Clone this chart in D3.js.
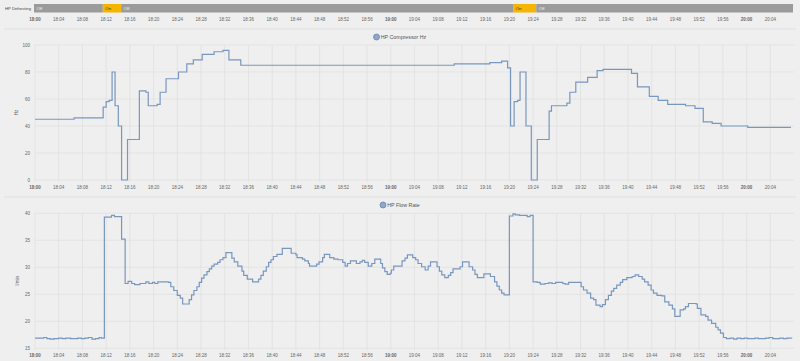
<!DOCTYPE html>
<html><head><meta charset="utf-8">
<script src="https://cdn.jsdelivr.net/npm/d3@7"></script>
<style>
html,body{margin:0;padding:0;background:#efefef;}
svg{display:block;font-family:"Liberation Sans",Arial,sans-serif;}
</style></head>
<body>
<svg id="c" width="800" height="361"></svg>
<script>
// ---------------- DATA ----------------
const dayStart = "18:00:00";
const dayEnd = "20:08:00";

const defrostStart = ["18:00:00","18:11:36","18:14:42","19:20:48","19:24:42"];
const defrostEnd   = ["18:11:36","18:14:42","19:20:48","19:24:42","20:08:00"];
const defrostState = ["Off","On","Off","On","Off"];

const hzTime = ["18:00:00","18:06:36","18:11:30","18:12:00","18:12:30","18:13:00","18:13:30","18:14:03","18:14:36","18:15:36",
"18:17:36","18:18:42","18:19:06","18:20:36","18:21:06","18:22:06","18:24:12","18:25:36","18:26:42","18:28:12",
"18:30:12","18:31:42","18:32:42","18:34:42","19:10:42","19:16:42","19:18:42","19:19:42","19:20:12","19:20:48",
"19:21:24","19:21:48","19:22:48","19:23:42","19:24:42","19:26:42","19:27:06","19:29:42","19:30:12","19:31:12",
"19:33:12","19:34:48","19:35:48","19:40:36","19:41:36","19:43:36","19:45:06","19:46:42","19:49:42","19:51:18",
"19:52:42","19:54:12","19:55:42","20:00:12","20:07:30"];
const hzValue = [45,46,54,58,59,80,55,40,0,30,
66,65,55,56,65,75,80,86,89,93,
95,96,89,85,86,87,88,83,40,58,
59,80,40,0,30,51,55,57,65,72.5,
76,81,82,79,69,62,59,56,55,53,
43,42,40,39,39];

const flowTime = ["18:00:00","18:01:00","18:01:30","18:02:00","18:02:36","18:03:12","18:04:00","18:04:36","18:05:12","18:06:00",
"18:06:36","18:07:12","18:07:48","18:08:24","18:09:00","18:09:36","18:10:12","18:10:48","18:11:12","18:11:42",
"18:12:54","18:13:24","18:14:36","18:15:12","18:15:42","18:16:18","18:16:48","18:17:42","18:18:42","18:19:12",
"18:19:48","18:20:12","18:20:42","18:22:30","18:22:54","18:23:24","18:24:00","18:24:30","18:24:54","18:26:00",
"18:26:24","18:26:48","18:27:18","18:27:42","18:28:06","18:28:30","18:29:00","18:29:24","18:29:48","18:30:12",
"18:30:48","18:31:12","18:31:42","18:32:12","18:33:12","18:33:36","18:34:12","18:34:54","18:35:12","18:35:48",
"18:36:42","18:37:42","18:38:06","18:38:30","18:39:00","18:39:24","18:39:48","18:40:12","18:40:48","18:41:42",
"18:43:12","18:44:00","18:44:12","18:45:06","18:45:30","18:46:06","18:46:18","18:47:30","18:47:54","18:48:30",
"18:48:48","18:49:42","18:50:24","18:51:06","18:51:54","18:52:18","18:52:42","18:53:12","18:54:12","18:54:48",
"18:55:12","18:55:36","18:56:12","18:56:48","18:57:18","18:58:18","18:58:36","18:59:00","18:59:24","18:59:54",
"19:00:06","19:00:30","19:01:54","19:02:24","19:02:48","19:03:42","19:04:12","19:04:36","19:05:12","19:05:48",
"19:06:18","19:06:42","19:07:48","19:08:12","19:08:36","19:09:06","19:09:42","19:10:06","19:10:30","19:11:42",
"19:12:06","19:13:12","19:13:48","19:14:12","19:14:36","19:15:42","19:16:48","19:17:30","19:17:54","19:18:18",
"19:18:42","19:19:06","19:20:00","19:20:36","19:21:00","19:21:42","19:23:00","19:23:30","19:24:00","19:24:42",
"19:25:12","19:26:00","19:26:36","19:27:12","19:27:48","19:29:00","19:29:24","19:30:00","19:32:06","19:32:30",
"19:33:06","19:33:42","19:34:12","19:34:36","19:35:18","19:35:42","19:36:12","19:36:42","19:37:12","19:37:36",
"19:38:06","19:38:42","19:39:06","19:39:48","19:40:42","19:41:12","19:41:48","19:42:24","19:42:48","19:43:24",
"19:43:54","19:44:18","19:44:54","19:45:42","19:46:12","19:46:54","19:47:30","19:47:54","19:48:48","19:49:24",
"19:49:42","19:50:12","19:51:30","19:51:42","19:52:18","19:53:06","19:53:30","19:54:06","19:54:48","19:55:12",
"19:55:36","19:56:06","19:56:36","19:57:12","19:57:48","19:58:24","19:59:00","19:59:36","20:00:12","20:00:48",
"20:01:24","20:02:00","20:02:36","20:03:12","20:03:48","20:04:24","20:05:00","20:05:36","20:06:12","20:06:48",
"20:07:36"];
const flowValue = [16.9,16.9,17.0,16.8,16.7,16.8,16.9,16.8,16.9,16.8,
16.8,16.9,16.8,16.9,17.0,16.7,16.8,17.0,16.9,39.3,
39.6,39.4,35.2,27.0,27.4,27.0,26.8,27.0,27.3,27.0,
27.2,27.0,27.3,27.2,26.4,25.7,24.8,24.3,23.2,24.0,
24.9,25.7,26.4,27.2,28.0,28.6,29.2,29.7,30.2,30.6,
30.9,31.4,31.8,32.7,31.7,31.0,30.2,29.3,28.5,27.8,
27.3,27.8,28.5,29.3,30.1,30.9,31.4,32.0,32.4,33.5,
32.6,32.3,31.8,31.5,31.2,30.7,30.2,30.6,31.0,31.8,
32.4,31.8,31.5,31.4,30.9,30.2,30.7,31.2,30.7,31.0,
31.3,30.9,30.2,30.7,31.5,30.7,29.9,29.2,28.7,28.9,
29.5,30.2,31.2,31.7,32.3,31.8,31.4,30.7,30.1,29.5,
30.2,31.0,30.1,29.3,28.6,28.1,28.5,29.0,29.7,30.1,
31.0,30.1,29.5,28.7,28.1,28.8,28.3,27.3,26.5,25.8,
25.2,24.9,39.5,39.9,39.7,39.6,39.4,39.6,27.3,27.2,
26.9,27.0,27.1,27.0,27.2,27.0,26.9,27.2,26.4,25.8,
25.2,24.3,24.0,23.0,22.7,23.1,24.0,24.8,25.6,26.1,
26.7,27.2,27.7,28.1,28.3,28.6,28.3,27.8,27.3,26.7,
25.8,25.2,24.8,24.7,23.6,23.0,22.3,20.9,22.1,22.3,
22.7,23.3,23.2,22.4,21.2,20.9,20.2,19.6,18.9,18.4,
17.8,17.0,16.8,16.9,16.7,16.9,16.8,16.9,16.8,16.8,
16.9,16.8,16.8,16.9,17.0,16.8,16.8,16.9,16.8,16.9,
16.8];

const hzTicks = [0,20,40,60,80,100];
const flowTicks = [15,20,25,30,35,40];

// ---------------- DRAW ----------------
const parse = s => { const [h,m,sec] = s.split(":").map(Number); return new Date(2024,0,1,h,m,sec); };
const svg = d3.select("#c");
const x = d3.scaleTime().domain([parse(dayStart), parse(dayEnd)]).range([35, 794]);
const ticks = x.ticks(d3.timeMinute.every(4)).filter(d => d < parse(dayEnd) - 60000);
const fmt = d3.timeFormat("%H:%M");
const textCol = "#666";

function xLabels(g, y) {
  g.selectAll("text.xl").data(ticks).join("text").attr("class","xl")
    .attr("x", d => x(d)).attr("y", y)
    .attr("text-anchor", "middle")
    .attr("font-size", 4.5).attr("fill", textCol)
    .attr("font-weight", d => d.getMinutes() === 0 ? "bold" : "normal")
    .text(fmt);
}

// Timeline
const tl = svg.append("g");
tl.append("text").attr("x", 5).attr("y", 9.8).attr("font-size", 4.4).attr("fill", "#444")
  .attr("textLength", 26).attr("lengthAdjust", "spacingAndGlyphs").text("HP Defrosting");
const segs = defrostState.map((s,i) => ({s, a: parse(defrostStart[i]), b: parse(defrostEnd[i])}));
tl.selectAll("rect").data(segs).join("rect")
  .attr("x", d => x(d.a) - 1).attr("width", d => x(d.b) - x(d.a))
  .attr("y", 4).attr("height", 8.5)
  .attr("fill", d => d.s === "On" ? "#f4b400" : "#9b9b9b");
tl.selectAll("text.seg").data(segs).join("text").attr("class","seg")
  .attr("x", d => x(d.a) + 1.5).attr("y", 9.8)
  .attr("font-size", 4.4)
  .attr("fill", d => d.s === "On" ? "#333" : "#f2f2f2")
  .text(d => d.s);
xLabels(tl, 20.5);
svg.append("line").attr("x1", 4).attr("x2", 796).attr("y1", 29).attr("y2", 29).attr("stroke", "#dcdcdc").attr("stroke-width", 0.8);
svg.append("line").attr("x1", 4).attr("x2", 796).attr("y1", 197).attr("y2", 197).attr("stroke", "#dcdcdc").attr("stroke-width", 0.8);

function chart(opts) {
  const {top, bottom, domain, yticks, times, values, title, unit, unitX, legendY, labelY} = opts;
  const g = svg.append("g");
  const y = d3.scaleLinear().domain(domain).range([bottom, top]);
  g.selectAll("line.h").data(yticks).join("line").attr("class","h")
    .attr("x1", 35).attr("x2", 794).attr("y1", d => y(d)).attr("y2", d => y(d))
    .attr("stroke", "#dcdcdc").attr("stroke-width", 0.6);
  g.selectAll("line.v").data(ticks).join("line").attr("class","v")
    .attr("x1", d => x(d)).attr("x2", d => x(d)).attr("y1", top).attr("y2", bottom + 2)
    .attr("stroke", "#dcdcdc").attr("stroke-width", 0.6);
  g.selectAll("text.yl").data(yticks).join("text").attr("class","yl")
    .attr("x", 30).attr("y", d => y(d) + 1.6).attr("text-anchor", "end")
    .attr("font-size", 4.5).attr("fill", textCol).text(d => d);
  xLabels(g, labelY);
  g.append("text").attr("transform", `translate(${unitX},${(top+bottom)/2}) rotate(-90)`)
    .attr("text-anchor", "middle").attr("font-size", 4.5).attr("fill", textCol).text(unit);
  const lg = g.append("g");
  const lt = lg.append("text").attr("x", 0).attr("y", legendY + 1.8).attr("font-size", 5.3).attr("fill", "#555").text(title);
  const tw = lt.node().getComputedTextLength();
  const x0 = 400 - (7 + tw) / 2;
  lg.append("circle").attr("cx", x0 + 2.8).attr("cy", legendY).attr("r", 3)
    .attr("fill", "#8ea8cb").attr("stroke", "#5f7ea6").attr("stroke-width", 0.7);
  lt.attr("x", x0 + 7);
  const pts = times.map((t,i) => [parse(t), values[i]]);
  const line = d3.line().x(d => x(d[0])).y(d => y(d[1])).curve(d3.curveStepAfter);
  g.append("path").datum(pts).attr("d", line).attr("fill", "none")
    .attr("stroke", "#7897bf").attr("stroke-width", 1.2);
}

chart({top: 45, bottom: 180, domain: [0,100], yticks: hzTicks, times: hzTime, values: hzValue,
  title: "HP Compressor Hz", unit: "Hz", unitX: 18, legendY: 37, labelY: 188.5});
chart({top: 213.3, bottom: 348.3, domain: [15,40], yticks: flowTicks, times: flowTime, values: flowValue,
  title: "HP Flow Rate", unit: "l/min", unitX: 19, legendY: 205, labelY: 356.5});
</script>
</body></html>
